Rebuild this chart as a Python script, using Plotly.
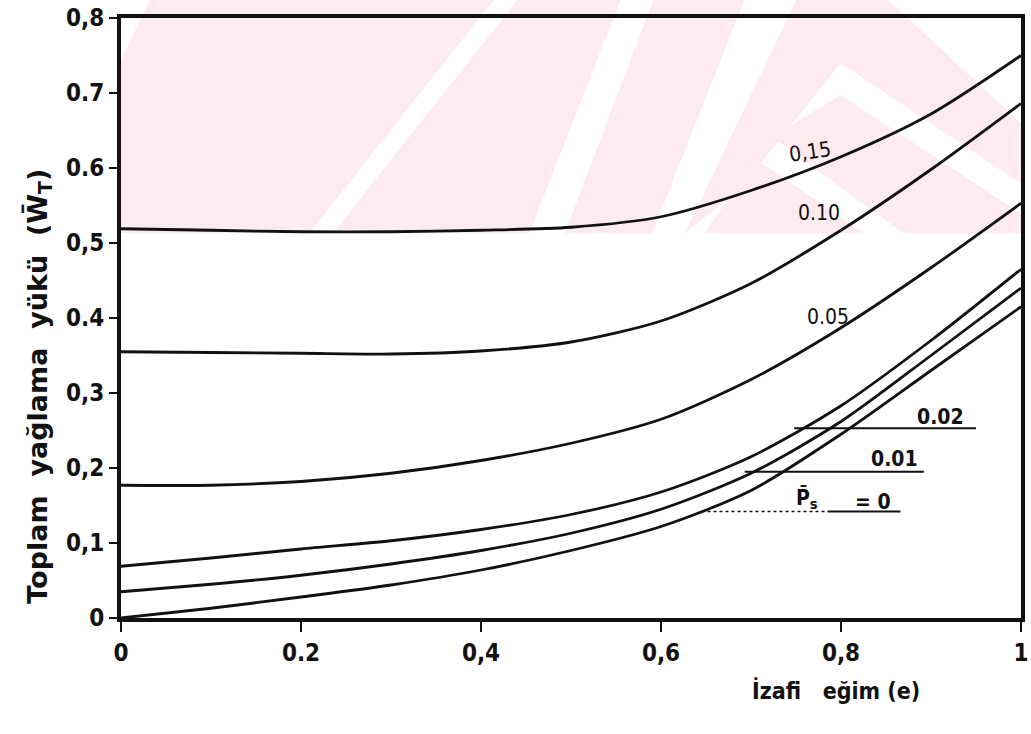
import plotly.graph_objects as go

# relative slope e and total lubrication load for each supply-pressure curve
e_vals = [0.0, 0.1, 0.2, 0.3, 0.4, 0.5, 0.6, 0.7, 0.8, 0.9, 1.0]
w_p015 = [0.519, 0.517, 0.515, 0.515, 0.517, 0.521, 0.535, 0.570, 0.615, 0.672, 0.750]
w_p010 = [0.355, 0.354, 0.353, 0.352, 0.356, 0.368, 0.396, 0.446, 0.517, 0.598, 0.686]
w_p005 = [0.177, 0.177, 0.182, 0.193, 0.210, 0.233, 0.265, 0.318, 0.387, 0.467, 0.553]
w_p002 = [0.069, 0.080, 0.092, 0.103, 0.118, 0.138, 0.168, 0.215, 0.283, 0.370, 0.465]
w_p001 = [0.035, 0.045, 0.057, 0.072, 0.090, 0.113, 0.145, 0.193, 0.262, 0.350, 0.440]
w_p000 = [0.000, 0.013, 0.028, 0.044, 0.064, 0.090, 0.122, 0.170, 0.245, 0.330, 0.415]

x_tickvals = [0, 0.2, 0.4, 0.6, 0.8, 1.0]
x_ticktext = ["0", "0.2", "0,4", "0,6", "0,8", "1"]
y_tickvals = [0, 0.1, 0.2, 0.3, 0.4, 0.5, 0.6, 0.7, 0.8]
y_ticktext = ["0", "0,1", "0,2", "0,3", "0.4", "0,5", "0.6", "0.7", "0,8"]

FONT = "DejaVu Sans Condensed, DejaVu Sans, sans-serif"
WIDE = "DejaVu Sans, sans-serif"
INK = "#111111"
PINK = "#fdebef"

W, H = 1031, 734
ML, MR, MT, MB = 121, 2, 18, 116


def px(x, y):
    """page pixel -> paper coordinates"""
    return (x - ML) / (W - ML - MR), (H - MB - y) / (H - MT - MB)


def poly(points):
    pts = [px(x, y) for x, y in points]
    d = "M " + " L ".join(f"{a:.4f},{b:.4f}" for a, b in pts) + " Z"
    return dict(type="path", xref="paper", yref="paper", path=d,
                fillcolor=PINK, line=dict(width=0), layer="below")


fig = go.Figure()
for w in [w_p015, w_p010, w_p005, w_p002, w_p001, w_p000]:
    fig.add_trace(go.Scatter(
        x=e_vals, y=w, mode="lines",
        line=dict(color=INK, width=2.8, shape="spline", smoothing=0.8),
        showlegend=False, hoverinfo="skip",
    ))

# faint chevron pattern in the upper band of the page
band = [
    poly([(150, 0), (497, 0), (311, 233), (121, 233), (121, 60)]),
    poly([(521, 0), (625, 0), (533, 233), (335, 233)]),
    poly([(658, 0), (750, 0), (657, 233), (569, 233)]),
    poly([(802, 0), (895, 0), (1031, 125), (1031, 185), (847, 63), (745, 190), (690, 233)]),
    poly([(847, 95), (1031, 215), (1031, 233), (910, 233), (778, 137)]),
    poly([(760, 160), (778, 170), (870, 233), (710, 233)]),
]

# leader lines under the small-pressure labels
leaders = [
    dict(type="line", xref="x", yref="y", x0=0.748, x1=0.950, y0=0.253, y1=0.253,
         line=dict(color=INK, width=2)),
    dict(type="line", xref="x", yref="y", x0=0.693, x1=0.892, y0=0.195, y1=0.195,
         line=dict(color=INK, width=2)),
    dict(type="line", xref="x", yref="y", x0=0.645, x1=0.785, y0=0.142, y1=0.142,
         line=dict(color=INK, width=1.5, dash="dot")),
    dict(type="line", xref="x", yref="y", x0=0.785, x1=0.866, y0=0.142, y1=0.142,
         line=dict(color=INK, width=2)),
]

lab = dict(family=FONT, size=21, color=INK)
annotations = [
    dict(x=0.765, y=0.622, text="0,15", textangle=-8),
    dict(x=0.776, y=0.540, text="0.10"),
    dict(x=0.786, y=0.402, text="0.05"),
    dict(x=0.910, y=0.268, text="<b>0.02</b>"),
    dict(x=0.859, y=0.212, text="<b>0.01</b>"),
    dict(x=0.762, y=0.160, text="<b>P̄<sub>s</sub></b>"),
    dict(x=0.836, y=0.155, text="<b>= 0</b>"),
]
for a in annotations:
    a.update(xref="x", yref="y", showarrow=False, font=lab)

tx, ty = px(842, 690)
annotations.append(dict(xref="paper", yref="paper", x=tx, y=ty, showarrow=False,
                        xanchor="center", yanchor="middle",
                        text="<b>İzafi   eğim (e)</b>",
                        font=dict(family=FONT, size=23, color=INK)))
yx, yy = px(38, 386)
annotations.append(dict(xref="paper", yref="paper", x=yx, y=yy, showarrow=False,
                        xanchor="center", yanchor="middle", textangle=-90,
                        text="<b>Toplam  yağlama  yükü  (W̄<sub>T</sub>)</b>",
                        font=dict(family=WIDE, size=27, color=INK)))

tickfont = dict(family=FONT, size=24, color=INK, weight="bold")
fig.update_layout(
    width=W, height=H,
    margin=dict(l=ML, r=MR, t=MT, b=MB),
    paper_bgcolor="white", plot_bgcolor="rgba(0,0,0,0)",
    shapes=band + leaders, annotations=annotations,
    font=dict(family=FONT, color=INK),
    xaxis=dict(
        range=[0, 1], tickvals=x_tickvals, ticktext=x_ticktext,
        ticks="outside", ticklen=10, tickwidth=2, tickcolor=INK,
        showline=True, linewidth=4, linecolor=INK, mirror=True,
        showgrid=False, zeroline=False, tickfont=tickfont,
        ticklabeloverflow="allow",
    ),
    yaxis=dict(
        range=[0, 0.8], tickvals=y_tickvals, ticktext=y_ticktext,
        ticks="outside", ticklen=8, tickwidth=2, tickcolor=INK,
        showline=True, linewidth=4, linecolor=INK, mirror=True,
        showgrid=False, zeroline=False, tickfont=tickfont,
        ticklabeloverflow="allow",
    ),
)
fig.write_html("out.html")
